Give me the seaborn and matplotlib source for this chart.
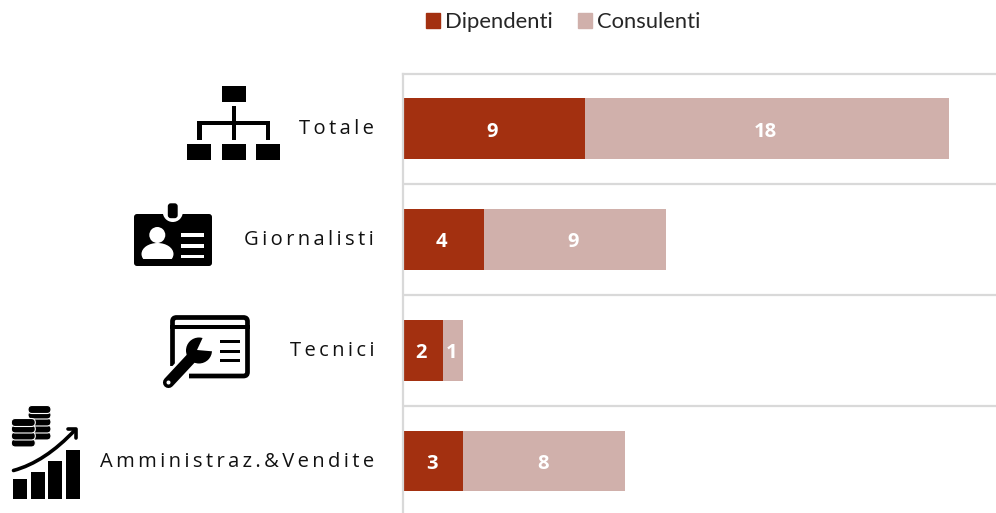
import matplotlib
matplotlib.use("Agg")
import matplotlib.pyplot as plt
import seaborn as sns
import numpy as np
import pandas as pd
from matplotlib.patches import Rectangle, Circle, Ellipse, FancyBboxPatch, Polygon, PathPatch
from matplotlib.path import Path
from matplotlib.transforms import ScaledTranslation

# Values
categories = ["Totale", "Giornalisti", "Tecnici", "Amministraz. & Vendite"]
dipendenti = [9, 4, 2, 3]
consulenti = [18, 9, 1, 8]

DARK = "#A33010"
LIGHT = "#D0B0AB"
GRID = "#D9D9D9"

sns.set_theme(style="white")
plt.rcParams["font.family"] = ["Open Sans", "DejaVu Sans"]

df = pd.DataFrame({"categoria": categories, "Dipendenti": dipendenti, "Consulenti": consulenti})

fig = plt.figure(figsize=(9.96, 5.13), dpi=100)
ax = fig.add_axes([402.6 / 996, 0, 593.4 / 996, 439 / 513])

# Stacked bars: two passes, the second one starts where the first ends
sns.barplot(data=df, y="categoria", x="Dipendenti", color=DARK, width=0.55, saturation=1, linewidth=0, ax=ax)
sns.barplot(data=df, y="categoria", x="Consulenti", color=LIGHT, width=0.55, saturation=1, linewidth=0,
            left=df["Dipendenti"].values, ax=ax)

for container in ax.containers:
    for ann in ax.bar_label(container, label_type="center", color="white", fontsize=14.5, fontweight="bold"):
        ann.xyann = (-1, -2.2)

ax.set_xlim(0, 593.4 / 20.23)
ax.set_ylim(3.469, -0.492)
ax.set_xlabel("")
ax.set_ylabel("")
ax.xaxis.set_visible(False)

# Letter spacing of the category labels
spaced = ["\u2009".join(ch for ch in c if ch != " ") for c in categories]
ax.set_yticks(range(len(categories)))
ax.set_yticklabels(spaced, fontsize=14.5, color="#111111")
ax.tick_params(axis="y", length=0, pad=20.5)
for lab in ax.get_yticklabels():
    lab.set_transform(lab.get_transform() + ScaledTranslation(0, 1.2 / 72, fig.dpi_scale_trans))

ax.set_yticks([0.5, 1.5, 2.5], minor=True)
ax.tick_params(axis="y", which="minor", length=0)
ax.grid(True, axis="y", which="minor", color=GRID, linewidth=1.6)
ax.set_axisbelow(True)

for side in ["right", "bottom"]:
    ax.spines[side].set_visible(False)
for side in ["left", "top"]:
    ax.spines[side].set_color(GRID)
    ax.spines[side].set_linewidth(1.6)

# Legend at the top
handles = [Rectangle((0, 0), 1, 1, color=DARK), Rectangle((0, 0), 1, 1, color=LIGHT)]
fig.legend(handles, ["Dipendenti", "Consulenti"], loc="center left", bbox_to_anchor=(426 / 996, 1 - 22 / 513),
           ncol=2, frameon=False, prop={"family": "Lato", "size": 15.8}, handlelength=0.64, handleheight=0.64,
           handletextpad=0.23, columnspacing=1.15, borderpad=0, borderaxespad=0)

# Icons, drawn in pixel coordinates on a see-through overlay
ov = fig.add_axes([0, 0, 1, 1], facecolor="none")
ov.set_xlim(0, 996)
ov.set_ylim(513, 0)
ov.axis("off")


def box(x0, y0, x1, y1, color="black", z=2):
    ov.add_patch(Rectangle((x0, y0), x1 - x0, y1 - y0, color=color, lw=0, zorder=z))


# Org chart icon
box(222, 86, 246, 102)
box(231.5, 106, 236, 140)
box(197, 120.7, 270, 125)
box(197, 120.7, 201.5, 140)
box(265.5, 120.7, 270, 140)
for x0 in [187, 222, 256]:
    box(x0, 144, x0 + 24, 160)

# Badge icon
ov.add_patch(FancyBboxPatch((136, 216), 74, 48, boxstyle="round,pad=2,rounding_size=3", fc="black", ec="none", zorder=2))
ov.add_patch(Circle((172.8, 212), 10, fc="white", ec="none", zorder=3))
ov.add_patch(FancyBboxPatch((169.5, 205), 6.5, 11.5, boxstyle="round,pad=1.7,rounding_size=3", fc="black", ec="none", zorder=4))
ov.add_patch(Circle((157.3, 235), 8, fc="white", ec="none", zorder=3))
ov.add_patch(Ellipse((157.5, 254), 32, 22, fc="white", ec="none", zorder=3))
box(140, 259, 175, 265.9, z=4)
for y0 in [233.3, 244, 254.7]:
    box(180.7, y0, 204, y0 + 3.6, color="white", z=3)

# Wrench window icon
ov.add_patch(FancyBboxPatch((172.5, 317.5), 75, 58.5, boxstyle="round,pad=0,rounding_size=4", fc="none", ec="black", lw=3.4, zorder=2))
box(170, 325, 250, 329)
box(160, 366, 189, 384, color="white", z=3)
for y0 in [340.2, 349.5, 359.2]:
    box(220, y0, 240, y0 + 3, z=3)
ov.plot([168.5, 196], [382.5, 353], color="white", lw=12, solid_capstyle="round", zorder=3)
ov.add_patch(Circle((199, 350.5), 16.5, fc="white", ec="none", zorder=3))
ov.plot([168.5, 196], [382.5, 353], color="black", lw=8, solid_capstyle="round", zorder=4)
ov.add_patch(Circle((199, 350.5), 13, fc="black", ec="none", zorder=4))
ov.add_patch(Polygon([[197, 350], [204, 335], [220, 352]], fc="white", ec="none", zorder=5))
ov.add_patch(Circle((168.5, 382.5), 2, fc="white", ec="none", zorder=5))

# Coins and growth icon
for x0, top in zip([13.3, 31, 48.3, 66], [479.3, 472.3, 461.3, 450]):
    box(x0, top, x0 + 14, 499.3)
for cx, ys, w in [(39.5, [436, 429, 422, 415, 409.5], 23), (23.3, [443, 436, 429, 422.5], 24)]:
    for y in ys:
        ov.add_patch(FancyBboxPatch((cx - w / 2 + 3, y - 1), w - 6, 2, boxstyle="round,pad=3,rounding_size=4",
                                    fc="black", ec="white", lw=0.8, zorder=3))
curve = Path([(13.5, 470.5), (45, 462), (75, 430)], [Path.MOVETO, Path.CURVE3, Path.CURVE3])
ov.add_patch(PathPatch(curve, fc="none", ec="white", lw=5.5, zorder=4))
ov.add_patch(PathPatch(curve, fc="none", ec="black", lw=2.6, capstyle="round", zorder=5))
ov.plot([68, 76, 76], [429, 429, 438], color="black", lw=2.6, zorder=5)

plt.savefig("out.png", dpi=100)
plt.close()
